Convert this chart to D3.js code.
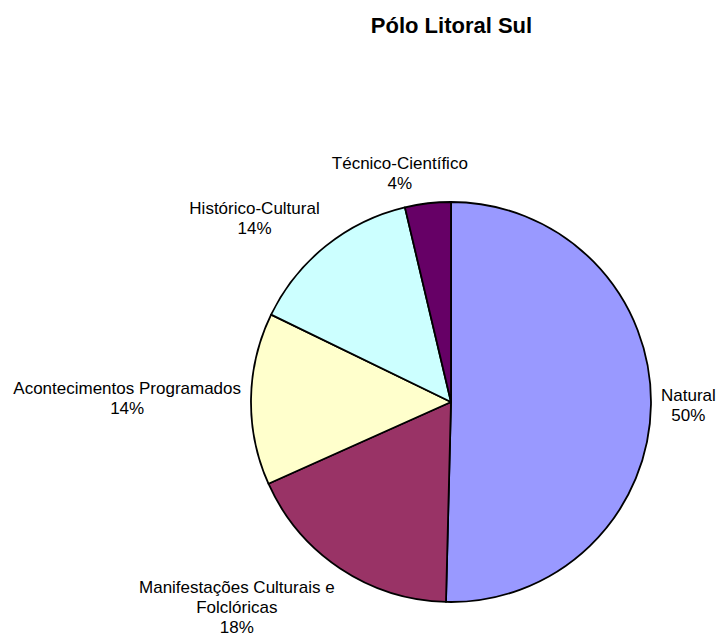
<!DOCTYPE html>
<html>
<head>
<meta charset="utf-8">
<script src="https://cdn.jsdelivr.net/npm/d3@7"></script>
<style>
  body { margin: 0; background: #fff; }
  text { font-family: "Liberation Sans", Arial, sans-serif; fill: #000; }
</style>
</head>
<body>
<script>
// data
const categories = ['Natural', 'Manifestações Culturais e\nFolclóricas', 'Acontecimentos Programados', 'Histórico-Cultural', 'Técnico-Científico'];
const values = [50.4, 17.9, 13.9, 14.1, 3.7];
const colors = ['#9999ff', '#993366', '#ffffcc', '#ccffff', '#660066'];
const title = 'Pólo Litoral Sul';

const width = 717, height = 639;
const cx = 451, cy = 402, radius = 200;
const fontSize = 17, lineH = 20;

const svg = d3.select('body').append('svg')
    .attr('width', width).attr('height', height)
    .attr('xmlns', 'http://www.w3.org/2000/svg');

svg.append('text')
    .attr('x', 451.5)
    .attr('y', 33)
    .attr('text-anchor', 'middle')
    .style('font-size', '22px')
    .style('font-weight', 'bold')
    .text(title);

const total = d3.sum(values);
const pie = d3.pie().sort(null).value(d => d);
const arcs = pie(values);
const arc = d3.arc().innerRadius(0).outerRadius(radius);

const g = svg.append('g').attr('transform', `translate(${cx},${cy})`);

g.selectAll('path')
    .data(arcs)
    .enter()
    .append('path')
    .attr('d', arc)
    .attr('fill', (d, i) => colors[i])
    .attr('stroke', '#000')
    .attr('stroke-width', 1.8)
    .attr('stroke-linejoin', 'round');

// labels: box pushed out from a point just past the rim
const clamp = v => Math.max(-1, Math.min(1, v));
const labels = g.selectAll('g.label')
    .data(arcs)
    .enter()
    .append('g')
    .attr('class', 'label');

labels.each(function(d, i) {
    const lines = categories[i].split('\n');
    lines.push(Math.round(values[i] / total * 100) + '%');
    const a = (d.startAngle + d.endAngle) / 2;
    const s = Math.sin(a), c = Math.cos(a);
    const ax = (radius + 10) * s, ay = -(radius + 10) * c;

    const t = d3.select(this).append('text')
        .attr('text-anchor', 'middle')
        .style('font-size', fontSize + 'px');
    lines.forEach(l => t.append('tspan').text(l));

    const w = d3.max(t.selectAll('tspan').nodes(), n => n.getComputedTextLength());
    const h = lines.length * lineH;
    const bx = ax + clamp(s * 3.4) * w / 2;
    const by = ay - clamp(c * 3.4) * h / 2;
    const y0 = by - (lines.length - 1) * lineH / 2 + fontSize * 0.35;

    t.selectAll('tspan')
        .attr('x', bx)
        .attr('y', (l, j) => y0 + j * lineH);
});
</script>
</body>
</html>
